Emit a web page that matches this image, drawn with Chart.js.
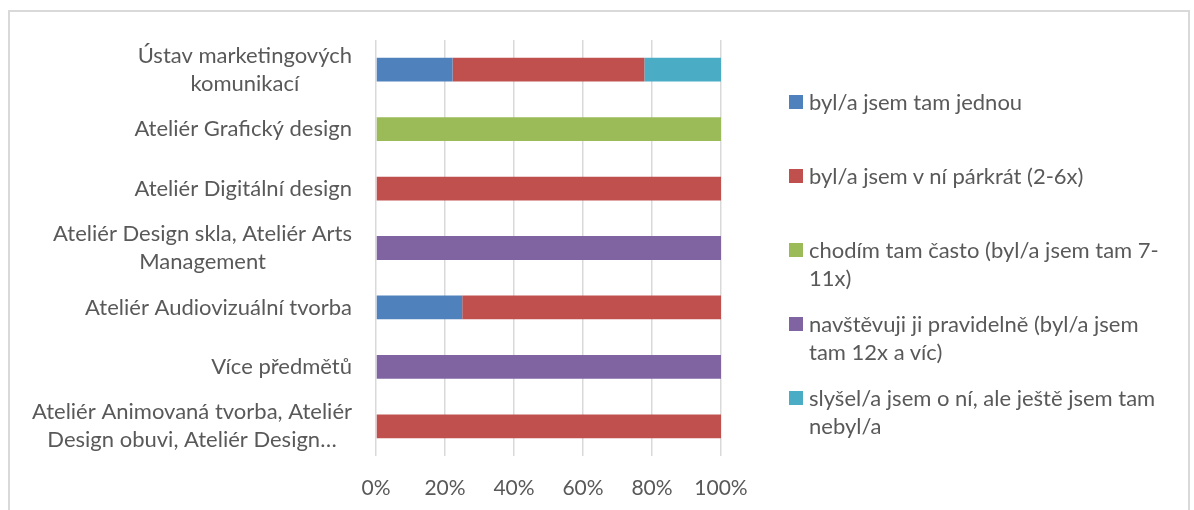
<!DOCTYPE html>
<html>
<head>
<meta charset="utf-8">
<script src="https://cdn.jsdelivr.net/npm/chart.js@4.4.0/dist/chart.umd.min.js"></script>
<style>
  body { margin: 0; background: #fff; font-family: Lato, sans-serif; }
  #frame { position: absolute; left: 8px; top: 10px; width: 1182px; height: 520px;
           border: 2px solid #d9d9d9; border-bottom: none; box-sizing: border-box; }
  #chart { position: absolute; left: 0; top: 0; }
  #legend { position: absolute; left: 789px; top: 88px; width: 390px; }
  .item { display: flex; height: 74px; }
  .box { width: 14px; height: 14px; margin-top: 7px; margin-right: 6px; flex: none; }
  .txt { font-size: 22px; line-height: 28px; color: #595959; width: 362px; }
</style>
</head>
<body>
<div id="frame"></div>
<canvas id="chart" width="1194" height="510"></canvas>
<div id="legend"></div>
<script>
// categories, top to bottom (line breaks as in the picture)
const categories = [
  ['Ústav marketingových', 'komunikací'],
  ['Ateliér Grafický design'],
  ['Ateliér Digitální design'],
  ['Ateliér Design skla, Ateliér Arts', 'Management'],
  ['Ateliér Audiovizuální tvorba'],
  ['Více předmětů'],
  ['Ateliér Animovaná tvorba, Ateliér', 'Design obuvi, Ateliér Design…']
];

const seriesNames = [
  'byl/a jsem tam jednou',
  'byl/a jsem v ní párkrát (2-6x)',
  'chodím tam často (byl/a jsem tam 7-11x)',
  'navštěvuji ji pravidelně (byl/a jsem tam 12x a víc)',
  'slyšel/a jsem o ní, ale ještě jsem tam nebyl/a'
];

// shares in %
const jednou     = [22.2, 0, 0, 0, 25, 0, 0];
const parkrat    = [55.6, 0, 100, 0, 75, 0, 100];
const casto      = [0, 100, 0, 0, 0, 0, 0];
const pravidelne = [0, 0, 0, 100, 0, 100, 0];
const slysel     = [22.2, 0, 0, 0, 0, 0, 0];

const xTicks = [0, 20, 40, 60, 80, 100];

const colors = ['#4f81bd', '#c0504d', '#9bbb59', '#8064a2', '#4bacc6'];
const textColor = '#595959';
const fontFamily = 'Lato, sans-serif';

const seriesData = [jednou, parkrat, casto, pravidelne, slysel];

// category labels: each block right-aligned, lines centred inside the block
const yLabels = {
  id: 'yLabels',
  afterDraw(chart) {
    const ctx = chart.ctx;
    const scale = chart.scales.y;
    const right = chart.chartArea.left - 24;
    ctx.save();
    ctx.font = '22px ' + fontFamily;
    ctx.fillStyle = textColor;
    ctx.textAlign = 'center';
    ctx.textBaseline = 'middle';
    categories.forEach((lines, i) => {
      const yc = scale.getPixelForTick(i);
      const widest = Math.max(...lines.map(l => ctx.measureText(l).width));
      const xc = right - widest / 2;
      lines.forEach((line, j) => {
        ctx.fillText(line, xc, yc + (j - (lines.length - 1) / 2) * 28);
      });
    });
    ctx.restore();
  }
};

const chart = new Chart(document.getElementById('chart'), {
  type: 'bar',
  data: {
    labels: categories,
    datasets: seriesData.map((d, i) => ({
      label: seriesNames[i],
      data: d,
      backgroundColor: colors[i],
      borderWidth: 0,
      barPercentage: 0.4,
      categoryPercentage: 1
    }))
  },
  options: {
    indexAxis: 'y',
    responsive: false,
    animation: false,
    devicePixelRatio: 1,
    layout: { padding: { top: 40, right: 473, left: 0, bottom: 0 } },
    plugins: {
      legend: { display: false },
      tooltip: { enabled: false }
    },
    scales: {
      x: {
        stacked: true,
        min: 0,
        max: 100,
        afterBuildTicks: s => { s.ticks = xTicks.map(v => ({ value: v })); },
        afterFit: s => { s.height = 54; },
        grid: { color: '#d9d9d9', lineWidth: 1.5, drawTicks: false },
        border: { display: false },
        ticks: {
          padding: 20,
          color: textColor,
          font: { family: fontFamily, size: 21 },
          callback: v => v + '%'
        }
      },
      y: {
        stacked: true,
        afterFit: s => { s.width = 376; },
        grid: { display: false },
        border: { display: false },
        ticks: { display: false }
      }
    }
  },
  plugins: [yLabels]
});

// legend
const legend = document.getElementById('legend');
seriesNames.forEach((name, i) => {
  const item = document.createElement('div');
  item.className = 'item';
  const box = document.createElement('div');
  box.className = 'box';
  box.style.background = colors[i];
  const txt = document.createElement('div');
  txt.className = 'txt';
  txt.textContent = name;
  item.appendChild(box);
  item.appendChild(txt);
  legend.appendChild(item);
});
</script>
</body>
</html>
